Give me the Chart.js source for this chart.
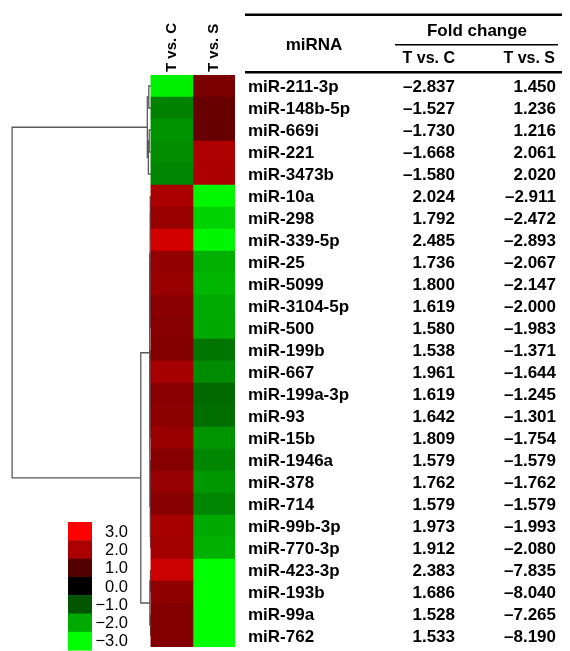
<!DOCTYPE html>
<html><head><meta charset="utf-8">
<script src="https://cdn.jsdelivr.net/npm/chart.js@4/dist/chart.umd.min.js"></script>
<style>html,body{margin:0;padding:0;background:#fff;overflow:hidden}</style>
</head><body>
<canvas id="c" width="570" height="651"></canvas>
<script>
// ---- data ----
const mirnas = ['miR-211-3p','miR-148b-5p','miR-669i','miR-221','miR-3473b','miR-10a','miR-298','miR-339-5p','miR-25','miR-5099','miR-3104-5p','miR-500','miR-199b','miR-667','miR-199a-3p','miR-93','miR-15b','miR-1946a','miR-378','miR-714','miR-99b-3p','miR-770-3p','miR-423-3p','miR-193b','miR-99a','miR-762'];
const foldTvsC = [-2.837,-1.527,-1.730,-1.668,-1.580,2.024,1.792,2.485,1.736,1.800,1.619,1.580,1.538,1.961,1.619,1.642,1.809,1.579,1.762,1.579,1.973,1.912,2.383,1.686,1.528,1.533];
const foldTvsS = [1.450,1.236,1.216,2.061,2.020,-2.911,-2.472,-2.893,-2.067,-2.147,-2.000,-1.983,-1.371,-1.644,-1.245,-1.301,-1.754,-1.579,-1.762,-1.579,-1.993,-2.080,-7.835,-8.040,-7.265,-8.190];
const columns = ['T vs. C','T vs. S'];
const legendTicks = [3,2,1,0,-1,-2,-3];
const legendLabels = ['3.0','2.0','1.0','0.0','\u22121.0','\u22122.0','\u22123.0'];
// dendrogram: [height, left, right], leaves = row index
const treeTop = [0.085, [0.05, 0, 1], [0.06, [0.04, 2, 3], 4]];
const treeUpperA = [0.02, [0.015, 5, [0.01, 6, 7]], [0.012, [0.008, 8, 9], [0.008, 10, 11]]];
const treeUpperB = [0.025, [0.015, [0.01, 12, [0.006, 13, 14]], [0.008, 15, 16]], [0.015, [0.008, 17, [0.005, 18, 19]], [0.01, 20, 21]]];
const treeUpper = [0.03, treeUpperA, treeUpperB];
const treeLower = [0.025, [0.015, 22, 23], [0.01, 24, 25]];
const treeBottom = [0.24, treeUpper, treeLower];
const tree = [3.3, treeTop, treeBottom];

// ---- helpers ----
function colorFor(v){
  const t = Math.max(-1, Math.min(1, v/3));
  const c = Math.round(Math.abs(t)*255);
  return t >= 0 ? `rgb(${c},0,0)` : `rgb(0,${c},0)`;
}
function fmt(v){ return (v < 0 ? '\u2013' : '') + Math.abs(v).toFixed(3); }

const dendroPts = [];
function layout(node){
  if (typeof node === 'number') return {y: node, h: 0};
  const [h, a, b] = node;
  const A = layout(a), B = layout(b);
  dendroPts.push({x:-A.h, y:A.y}, {x:-h, y:A.y}, {x:-h, y:B.y}, {x:-B.h, y:B.y}, {x:NaN, y:NaN});
  return {y: (A.y + B.y)/2, h};
}
layout(tree);

const FONT = '"Liberation Sans", Arial, Helvetica, sans-serif';

const overlay = {
  id: 'overlay',
  afterDraw(chart){
    const ctx = chart.ctx, ys = chart.scales.y, xs = chart.scales.x;
    ctx.save();
    ctx.fillStyle = '#000';
    // column labels (rotated)
    ctx.font = 'bold 15px ' + FONT;
    ctx.textAlign = 'left'; ctx.textBaseline = 'middle';
    columns.forEach((c, j) => {
      const cx = (xs.getPixelForValue(j) + xs.getPixelForValue(j+1))/2;
      ctx.save(); ctx.translate(cx, 72); ctx.rotate(-Math.PI/2); ctx.fillText(c, 0, 0); ctx.restore();
    });
    // table rules
    ctx.fillRect(245, 13.5, 317, 2.5);
    ctx.fillRect(395, 44, 163, 1.5);
    ctx.fillRect(245, 71, 317, 2.5);
    // headers
    ctx.font = 'bold 17px ' + FONT;
    ctx.textAlign = 'center';
    ctx.fillText('miRNA', 314, 45);
    ctx.fillText('Fold change', 477, 31);
    ctx.font = 'bold 16px ' + FONT;
    ctx.textAlign = 'right';
    ctx.fillText(columns[0], 455, 59);
    ctx.fillText(columns[1], 555, 59);
    // rows
    ctx.font = 'bold 17px ' + FONT;
    mirnas.forEach((m, i) => {
      const y = ys.getPixelForValue(i) + 1;
      ctx.textAlign = 'left'; ctx.fillText(m, 248, y);
      ctx.textAlign = 'right';
      ctx.fillText(fmt(foldTvsC[i]), 455, y);
      ctx.fillText(fmt(foldTvsS[i]), 556, y);
    });
    // color key
    const bx = 68, bw = 24, by = 522, bh = 18.3;
    ctx.font = '16.5px ' + FONT;
    ctx.textAlign = 'right';
    legendTicks.forEach((v, k) => {
      ctx.fillStyle = colorFor(v);
      ctx.fillRect(bx, by + k*bh, bw, bh + 0.5);
      ctx.fillStyle = '#000';
      ctx.fillText(legendLabels[k], 128, by + k*bh + bh/2 + 1);
    });
    ctx.restore();
  }
};

new Chart(document.getElementById('c'), {
  type: 'bar',
  data: {
    datasets: [
      { label: columns[0], data: mirnas.map((m, i) => ({x: [0, 1], y: i})), backgroundColor: foldTvsC.map(colorFor),
        grouped: false, barPercentage: 1, categoryPercentage: 1, borderWidth: 0 },
      { label: columns[1], data: mirnas.map((m, i) => ({x: [1, 2], y: i})), backgroundColor: foldTvsS.map(colorFor),
        grouped: false, barPercentage: 1, categoryPercentage: 1, borderWidth: 0 },
      { type: 'scatter', label: 'dendrogram', data: dendroPts, indexAxis: 'x', showLine: true, spanGaps: false,
        borderColor: '#5a5a5a', borderWidth: 1.3, pointRadius: 0, fill: false }
    ]
  },
  options: {
    indexAxis: 'y',
    responsive: false,
    animation: false,
    layout: { padding: { left: 10, right: 335, top: 75, bottom: 4 } },
    scales: {
      x: { type: 'linear', min: -3.35, max: 2, display: false, offset: false },
      y: { type: 'linear', min: -0.5, max: 25.5, reverse: true, display: false, offset: false }
    },
    plugins: { legend: { display: false }, tooltip: { enabled: false } }
  },
  plugins: [overlay]
});
</script>
</body></html>
